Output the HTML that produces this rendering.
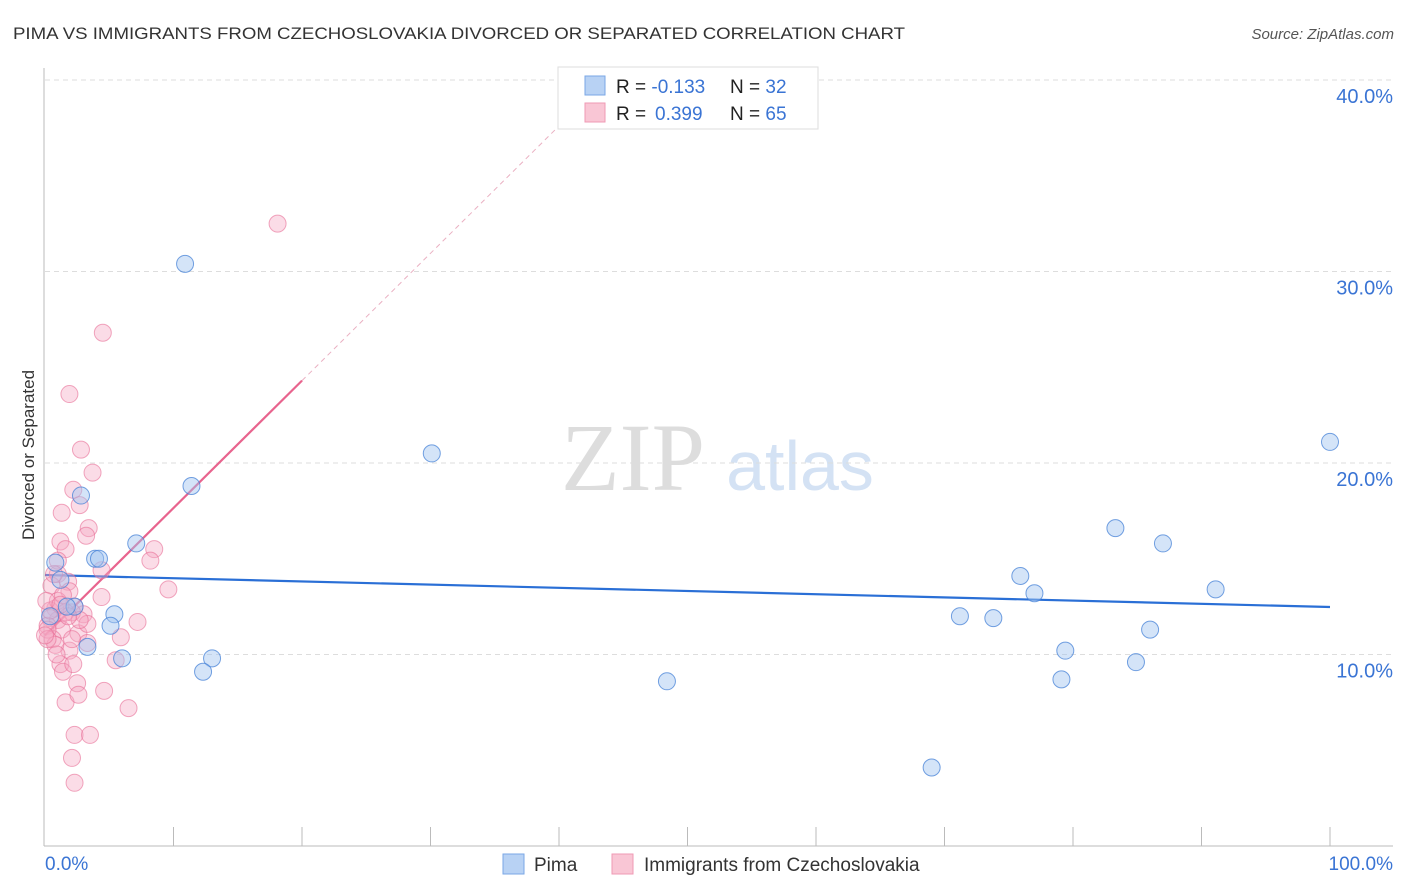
<!DOCTYPE html>
<html><head><meta charset="utf-8"><style>
body{margin:0;background:#fff;font-family:"Liberation Sans",sans-serif;}
#wrap{position:relative;width:1406px;height:892px;overflow:hidden;}
</style></head><body>
<div id="wrap">
<svg id="chart" width="1406" height="892" xmlns="http://www.w3.org/2000/svg">
<text x="13" y="39" font-size="17" fill="#333" textLength="892" lengthAdjust="spacingAndGlyphs">PIMA VS IMMIGRANTS FROM CZECHOSLOVAKIA DIVORCED OR SEPARATED CORRELATION CHART</text>
<text x="1394" y="39" font-size="15" fill="#555" font-style="italic" text-anchor="end">Source: ZipAtlas.com</text>
<text x="34" y="455" font-size="17" fill="#333" text-anchor="middle" transform="rotate(-90 34 455)">Divorced or Separated</text>
<g>
<text x="633" y="490" font-size="96" fill="#ddd" font-family="Liberation Serif,serif" text-anchor="middle">ZIP</text>
<text x="800" y="490" font-size="70" fill="#d4e2f4" text-anchor="middle">atlas</text>
</g>
<g id="grid"></g><g id="axes"></g><g id="trend"></g><g id="pts"></g>
<g>
<rect x="558" y="67" width="260" height="62" fill="#fff" stroke="#ddd"/>
<rect x="585" y="76" width="20" height="19" fill="#b8d2f4" stroke="#7aa7e6"/>
<rect x="585" y="103" width="20" height="19" fill="#f9c6d5" stroke="#ef9ab4"/>
<text x="616" y="93" font-size="19" fill="#222">R = <tspan fill="#3a74d4">-0.133</tspan><tspan x="730">N = </tspan><tspan fill="#3a74d4">32</tspan></text>
<text x="616" y="120" font-size="19" fill="#222">R = <tspan fill="#3a74d4" x="655">0.399</tspan><tspan x="730">N = </tspan><tspan fill="#3a74d4">65</tspan></text>
</g>
<g>
<rect x="503" y="854" width="21" height="20" fill="#b8d2f4" stroke="#7aa7e6"/>
<text x="534" y="871" font-size="19" fill="#333">Pima</text>
<rect x="612" y="854" width="21" height="20" fill="#f9c6d5" stroke="#ef9ab4"/>
<text x="644" y="871" font-size="19" fill="#333">Immigrants from Czechoslovakia</text>
</g>
</svg>
</div>
<script>
const yTicks=[10,20,30,40];
const yTickLabels=["10.0%","20.0%","30.0%","40.0%"];
const xTicks=[0,10,20,30,40,50,60,70,80,90,100];
const pimaX=[10.9,30.1,100,11.4,2.8,7.1,3.9,4.2,0.8,1.2,2.3,5.4,5.1,3.3,6.0,13.0,12.3,48.4,75.9,77.0,83.3,87.0,91.1,71.2,73.8,86.0,79.4,79.1,84.9,69.0,1.7,0.4];
const pimaY=[30.4,20.5,21.1,18.8,18.3,15.8,15.0,15.0,14.8,13.9,12.5,12.1,11.5,10.4,9.8,9.8,9.1,8.6,14.1,13.2,16.6,15.8,13.4,12.0,11.9,11.3,10.2,8.7,9.6,4.1,12.5,12.0];
const czX=[18.1,4.5,1.9,2.8,3.7,2.2,2.7,1.3,3.4,3.2,1.2,1.6,8.5,8.2,4.4,1.0,1.8,9.6,4.4,0.8,2.3,1.9,3.0,1.0,2.1,0.4,0.2,1.3,2.6,5.9,3.3,7.2,5.5,1.2,1.4,2.5,1.6,4.6,2.6,6.5,2.3,3.5,2.1,2.3,0.6,0.4,0.2,0.5,1.0,1.6,1.9,0.8,3.3,2.2,1.0,0.1,0.2,0.7,1.4,2.7,0.9,1.8,0.0,1.2,2.1];
const czY=[32.5,26.8,23.6,20.7,19.5,18.6,17.8,17.4,16.6,16.2,15.9,15.5,15.5,14.9,14.4,14.2,13.8,13.4,13.0,12.4,12.5,13.3,12.1,11.8,12.2,11.9,11.5,11.3,11.1,10.9,11.6,11.7,9.7,9.5,9.1,8.5,7.5,8.1,7.9,7.2,5.8,5.8,4.6,3.3,10.8,12.3,11.3,13.6,12.8,12.2,10.2,10.5,10.6,9.5,14.9,12.8,10.8,14.2,13.1,11.8,10.0,12.0,11.0,12.6,10.8];
const pimaTrend=[14.15,12.48];
const czTrend=[11.0,24.3];
const NS="http://www.w3.org/2000/svg";
const X=v=>45+v*12.85, Y=v=>846-v*19.15;
function mk(t,a,p){const e=document.createElementNS(NS,t);for(const k in a)e.setAttribute(k,a[k]);document.getElementById(p).appendChild(e);return e;}
yTicks.forEach((t,i)=>{
 const g=mk('line',{x1:45,x2:1393,y1:Y(t),y2:Y(t),stroke:'#ddd','stroke-dasharray':'5,4'},'grid');
 
 
 const l=mk('text',{x:1393,y:Y(t)+23,'font-size':20,fill:'#3a74d4','text-anchor':'end'},'axes');
 l.textContent=yTickLabels[i];
 
 
});
mk('line',{x1:44,x2:44,y1:68,y2:846,stroke:'#bbb'},'axes');
mk('line',{x1:44,x2:1393,y1:846,y2:846,stroke:'#bbb'},'axes');
xTicks.forEach(t=>{if(t>0){const k=mk('line',{x1:X(t),x2:X(t),y1:827,y2:846,stroke:'#bbb'},'axes');
 
 }});
let a=mk('text',{x:45,y:870,'font-size':19,fill:'#3a74d4'},'axes');a.textContent='0.0%';


a=mk('text',{x:1393,y:870,'font-size':19,fill:'#3a74d4','text-anchor':'end'},'axes');a.textContent='100.0%';


czX.forEach((x,i)=>{const c=mk('circle',{cx:X(x),cy:Y(czY[i]),r:8.5,fill:'rgba(246,168,194,0.4)',stroke:'rgba(232,110,150,0.6)','stroke-width':1},'pts');
 
 });
pimaX.forEach((x,i)=>{const c=mk('circle',{cx:X(x),cy:Y(pimaY[i]),r:8.5,fill:'rgba(160,196,240,0.45)',stroke:'rgba(70,130,215,0.75)','stroke-width':1},'pts');
 
 });
const slope=(czTrend[1]-czTrend[0])/20;
let t=mk('line',{x1:X(20),y1:Y(czTrend[1]),x2:X(40),y2:Y(czTrend[0]+slope*40),stroke:'#eab0c2','stroke-dasharray':'5,4','stroke-width':1},'trend');


t=mk('line',{x1:X(0),y1:Y(czTrend[0]),x2:X(20),y2:Y(czTrend[1]),stroke:'#e8648e','stroke-width':2.2},'trend');


t=mk('line',{x1:X(0),y1:Y(pimaTrend[0]),x2:X(100),y2:Y(pimaTrend[1]),stroke:'#2a6fd6','stroke-width':2.2},'trend');


</script>
</body></html>
